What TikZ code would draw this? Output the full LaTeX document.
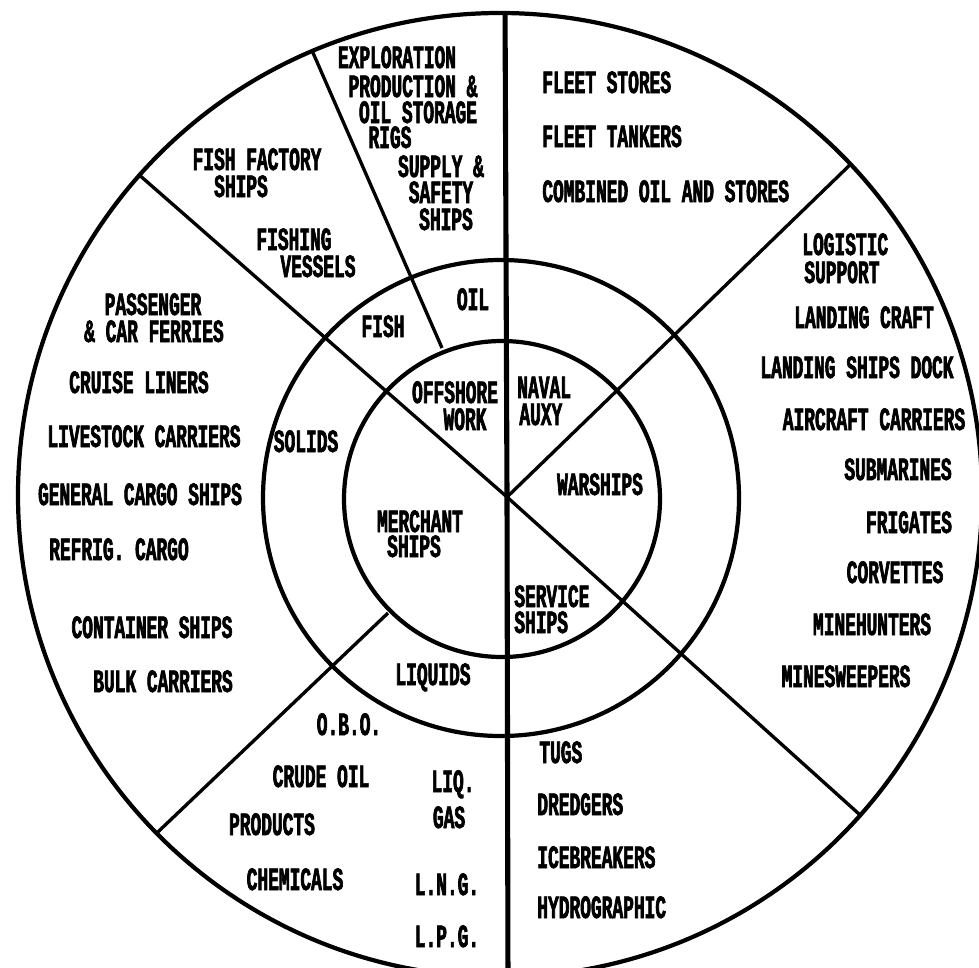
\documentclass[tikz,border=0pt]{standalone}
\usepackage{fontspec}
\newfontfamily\lp{Liberation Mono}[FakeStretch=0.55,BoldFeatures={FakeBold=2}]
\begin{document}
\begin{tikzpicture}[x=0.02cm,y=-0.02cm,
  ring/.style={line width=2.4pt},
  spoke/.style={line width=1.9pt},
  axisline/.style={line width=2.9pt},
  lbl/.style={font=\lp\bfseries\fontsize{18.5}{20}\selectfont, inner sep=0pt, anchor=base},
  lblw/.style={lbl, anchor=base west}]
\fill[white] (0,0) rectangle (979,967);
\useasboundingbox (0,0) rectangle (979,967);
% spokes (clipped to the outer ring)
\coordinate (O) at (500,495);
\coordinate (C) at (507,497);
\coordinate (vt) at (505,0);
\coordinate (vb) at (508,990);
\coordinate (ul) at (105,145);
\coordinate (lr) at (899,850);
\coordinate (ur) at (887,129);
\coordinate (llA) at (388,613);
\coordinate (llB) at (120,868);
\coordinate (oA) at (442,348);
\coordinate (oB) at (300,23);
\begin{scope}
  \clip (O) circle [radius=482];
  \draw[axisline] (vt) -- (C) -- (vb);
  \draw[spoke] (C) -- (ul);
  \draw[spoke] (C) -- (lr);
  \draw[spoke] (C) -- (ur);
  \draw[spoke] (llA) -- (llB);
  \draw[spoke] (oA) -- (oB);
\end{scope}
% rings
\draw[ring] (O) circle [radius=482];
\draw[ring] (501,498) circle [radius=238];
\draw[ring] (502,499) circle [radius=158];
% inner ring
\node[lbl] (offA) at (455,403) {OFFSHORE};
\node[lbl] (offB) at (465,430) {WORK};
\node[lblw] (navA) at (517,398) {NAVAL};
\node[lblw] (navB) at (519,425) {AUXY};
\node[lbl] (war) at (600,495) {WARSHIPS};
\node[lbl] (merA) at (420,532) {MERCHANT};
\node[lbl] (merB) at (414,557) {SHIPS};
\node[lblw] (serA) at (514,607) {SERVICE};
\node[lblw] (serB) at (514,633) {SHIPS};
% middle ring
\node[lbl] (oil) at (473,310) {OIL};
\node[lbl] (fish) at (383,337) {FISH};
\node[lbl] (sol) at (306,452) {SOLIDS};
\node[lbl] (liq) at (433,685) {LIQUIDS};
% offshore outer
\node[lbl] (exA) at (397,68) {EXPLORATION};
\node[lbl] (exB) at (413,97) {PRODUCTION \&};
\node[lbl] (exC) at (418,123) {OIL STORAGE};
\node[lbl] (exD) at (390,148) {RIGS};
\node[lbl] (suA) at (441,177) {SUPPLY \&};
\node[lbl] (suB) at (441,203) {SAFETY};
\node[lbl] (suC) at (446,230) {SHIPS};
% fish outer
\node[lbl] (ffA) at (257,170) {FISH FACTORY};
\node[lbl] (ffB) at (241,197) {SHIPS};
\node[lbl] (fvA) at (294,250) {FISHING};
\node[lbl] (fvB) at (318,277) {VESSELS};
% naval auxiliary outer
\node[lblw] (fs) at (542,93) {FLEET STORES};
\node[lblw] (ft) at (542,147) {FLEET TANKERS};
\node[lblw] (co) at (542,202) {COMBINED OIL AND STORES};
% warships outer
\node[lblw] (loA) at (802,255) {LOGISTIC};
\node[lblw] (loB) at (804,283) {SUPPORT};
\node[lbl] (lc) at (864,328) {LANDING CRAFT};
\node[lbl] (lsd) at (857,378) {LANDING SHIPS DOCK};
\node[lbl] (ac) at (874,430) {AIRCRAFT CARRIERS};
\node[lbl] (sub) at (898,480) {SUBMARINES};
\node[lbl] (fr) at (909,533) {FRIGATES};
\node[lbl] (cv) at (895,583) {CORVETTES};
\node[lbl] (mh) at (872,635) {MINEHUNTERS};
\node[lbl] (ms) at (846,687) {MINESWEEPERS};
% solids outer
\node[lbl] (paA) at (153,315) {PASSENGER};
\node[lbl] (paB) at (154,342) {\& CAR FERRIES};
\node[lbl] (cl) at (139,393) {CRUISE LINERS};
\node[lbl] (lv) at (144,447) {LIVESTOCK CARRIERS};
\node[lbl] (gc) at (140,505) {GENERAL CARGO SHIPS};
\node[lbl] (rc) at (119,560) {REFRIG. CARGO};
\node[lbl] (cs) at (152,638) {CONTAINER SHIPS};
\node[lbl] (bc) at (163,692) {BULK CARRIERS};
% liquids outer
\node[lbl] (obo) at (349,735) {O.B.O.};
\node[lbl] (crude) at (321,787) {CRUDE OIL};
\node[lbl] (lgA) at (453,792) {LIQ.};
\node[lbl] (lgB) at (449,828) {GAS};
\node[lbl] (prod) at (272,835) {PRODUCTS};
\node[lbl] (chem) at (295,890) {CHEMICALS};
\node[lbl] (lng) at (447,895) {L.N.G.};
\node[lbl] (lpg) at (447,947) {L.P.G.};
% service outer
\node[lblw] (tug) at (539,763) {TUGS};
\node[lblw] (dre) at (537,815) {DREDGERS};
\node[lblw] (ice) at (537,868) {ICEBREAKERS};
\node[lblw] (hyd) at (537,918) {HYDROGRAPHIC};
\end{tikzpicture}
\end{document}
